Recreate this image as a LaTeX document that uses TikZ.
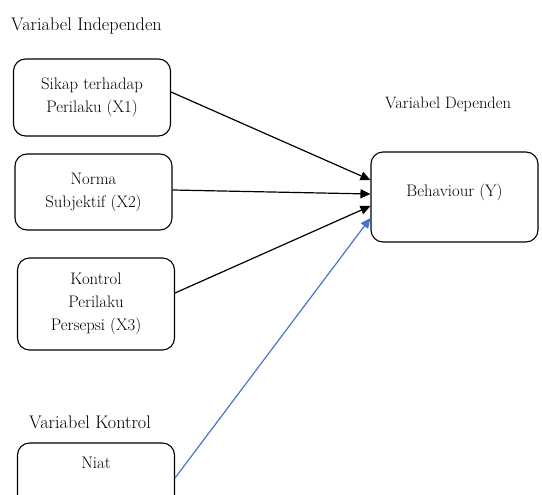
\documentclass[tikz,border=0pt]{standalone}
\usetikzlibrary{arrows.meta,positioning}
\definecolor{linkblue}{RGB}{72,118,200}
\tikzset{
  varbox/.style={
    shape = rectangle,
    draw,
    rounded corners = 12pt,
    line width = 1.1pt,
    minimum width = 157pt,
    align = center,
    font = \fontsize{16.7}{23}\selectfont
  },
}
\tikzset{
  heading/.style={
    anchor = base west,
    inner sep = 0pt,
    font = \fontsize{18.2}{22}\selectfont
  },
  link/.style={
    line width = 1.2pt,
    -{Triangle[length=10pt,width=9pt]}
  }
}

\begin{document}
\begin{tikzpicture}[x=1pt,y=-1pt]
        \useasboundingbox (0,0) rectangle (542,495);

        \node[heading] (indep) at (11,31) {Variabel Independen};
        \node[heading, font=\fontsize{16.5}{20}\selectfont] (dep) at (385,109) {Variabel Dependen};
        \node[heading] (kontrol) at (29,428) {Variabel Kontrol};

        \node[varbox, minimum height=77pt] (x1) at (92,97.5) {Sikap terhadap\\Perilaku (X1)};
        \node[varbox, minimum height=76pt] (x2) at (93.5,192) {Norma\\Subjektif (X2)};
        \node[varbox, minimum height=92pt] (x3) at (96,304) {Kontrol\\Perilaku\\Persepsi (X3)};
        \node[varbox, minimum height=70pt, text depth=30pt] (niat) at (96,478) {Niat};

        \node[varbox, minimum width=167pt, minimum height=90pt, text depth=14pt] (y) at (454.5,197) {Behaviour (Y)};

        \draw[link] ([yshift=5.5pt]x1.east) -- ([yshift=17pt]y.west);
        \draw[link] ([yshift=2pt]x2.east) -- ([yshift=3pt]y.west);
        \draw[link] ([yshift=11pt]x3.east) -- ([yshift=-9pt]y.west);
        \draw[link, linkblue] (niat.east) -- ([yshift=-21pt]y.west);
\end{tikzpicture}
\end{document}
